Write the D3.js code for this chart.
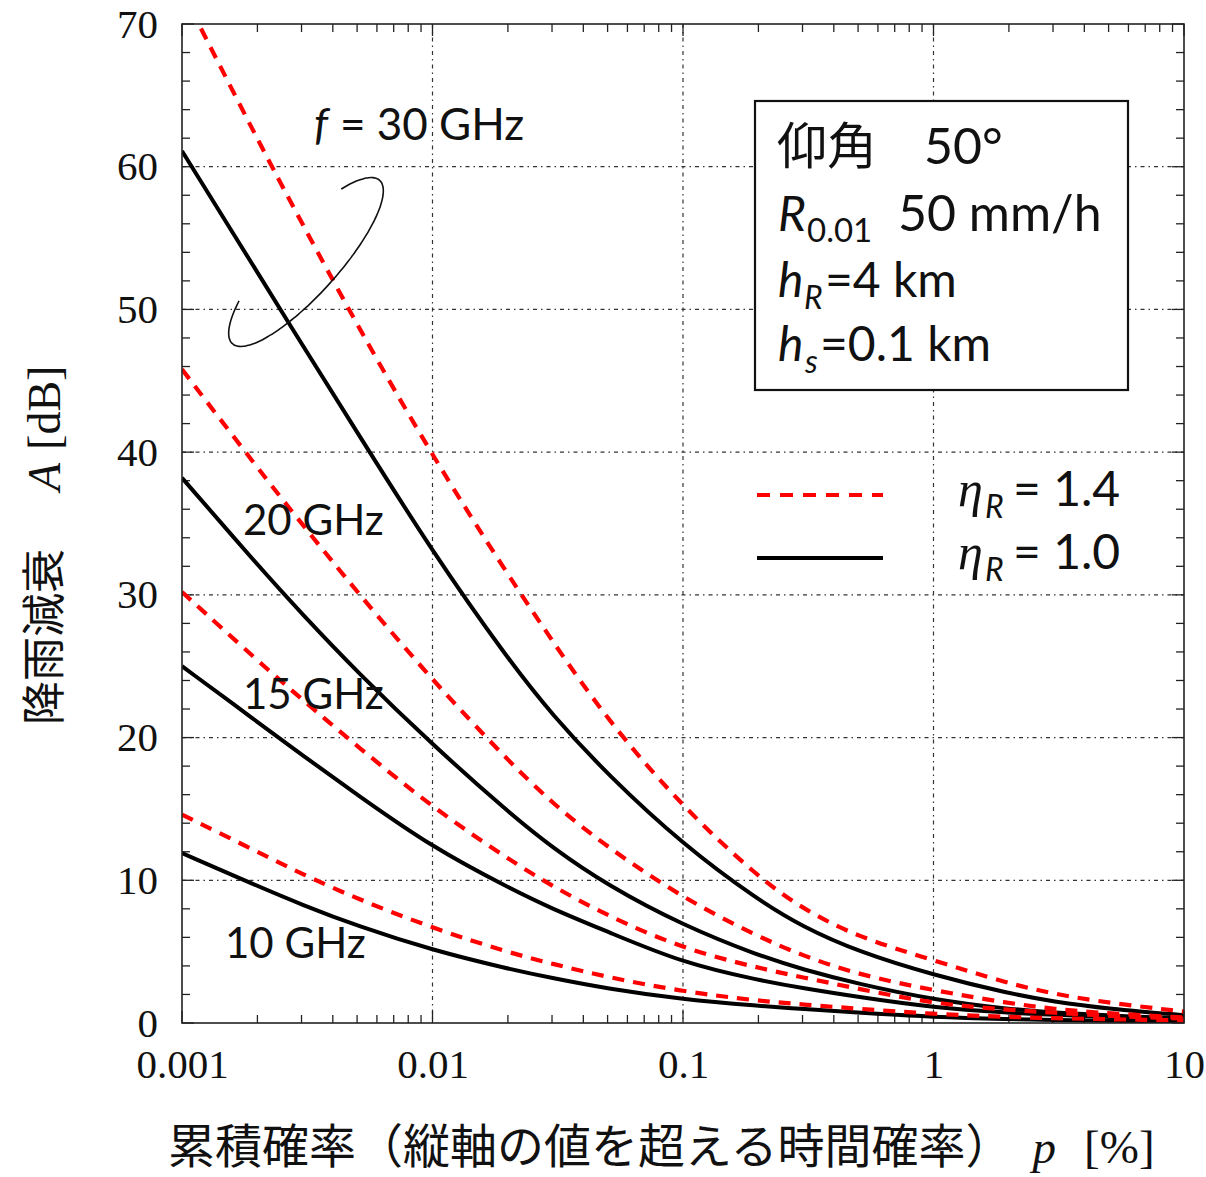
<!DOCTYPE html>
<html>
<head>
<meta charset="utf-8">
<script src="https://cdn.jsdelivr.net/npm/d3@7"></script>
<style>
  body { margin: 0; background: #fff; }
  svg { display: block; }
</style>
</head>
<body>
<svg id="chart" width="1206" height="1177"></svg>
<script>
// Rain attenuation vs. cumulative time percentage, elevation 50 deg.
// Values.

const pValues = [0.001, 0.002, 0.003, 0.005, 0.01, 0.02, 0.03, 0.05, 0.1, 0.2, 0.3, 0.5, 1, 2, 3, 5, 10];

// eta_R = 1.4 (red dashed)
const f30Eta14 = [72.3, 61.9, 56.1, 48.9, 39.7, 31.4, 26.8, 21.2, 15.1, 10.2, 8.0, 6.0, 4.4, 2.75, 2.05, 1.4, 0.8];
const f20Eta14 = [45.8, 38.9, 35.0, 30.2, 24.0, 18.4, 15.4, 12.3, 8.75, 6.04, 4.72, 3.39, 2.28, 1.38, 0.99, 0.66, 0.39];
const f15Eta14 = [30.2, 25.4, 22.7, 19.4, 15.1, 11.5, 9.6, 7.5, 5.2, 3.85, 3.2, 2.4, 1.35, 0.92, 0.72, 0.5, 0.3];
const f10Eta14 = [14.6, 12.0, 10.45, 8.7, 6.65, 4.95, 4.15, 3.2, 2.2, 1.55, 1.3, 1.0, 0.62, 0.42, 0.34, 0.26, 0.18];

// eta_R = 1.0 (black solid)
const f30Eta10 = [61.1, 52.6, 47.6, 41.4, 33.0, 25.5, 21.6, 17.4, 12.5, 8.6, 6.75, 5.0, 3.36, 2.07, 1.5, 0.99, 0.55];
const f20Eta10 = [38.2, 32.1, 28.7, 24.6, 19.5, 14.8, 12.3, 9.64, 6.84, 4.73, 3.76, 2.74, 1.63, 0.97, 0.74, 0.52, 0.31];
const f15Eta10 = [25.0, 21.1, 18.8, 16.0, 12.3, 9.5, 8.0, 6.4, 4.2, 3.0, 2.44, 1.82, 1.07, 0.72, 0.58, 0.42, 0.25];
const f10Eta10 = [11.9, 9.6, 8.3, 6.8, 5.1, 3.8, 3.15, 2.4, 1.65, 1.2, 0.98, 0.72, 0.42, 0.27, 0.21, 0.15, 0.1];

const xTicks = [0.001, 0.01, 0.1, 1, 10];
const xTickLabels = ['0.001', '0.01', '0.1', '1', '10'];
const yTicks = [0, 10, 20, 30, 40, 50, 60, 70];

const freqLabels = [
  { text: '20 GHz', x: 243, y: 535 },
  { text: '15 GHz', x: 243, y: 709 },
  { text: '10 GHz', x: 225, y: 958 }
];

const margin = { left: 182, top: 24, right: 22, bottom: 154 };
const W = 1206, H = 1177;
const plotW = W - margin.left - margin.right;
const plotH = H - margin.top - margin.bottom;

const svg = d3.select('#chart');

const x = d3.scaleLog().domain([0.001, 10]).range([0, plotW]);
const y = d3.scaleLinear().domain([0, 70]).range([plotH, 0]);

const sans = 'Lato, "Noto Sans", sans-serif';
const serif = '"Liberation Serif", "DejaVu Serif", serif';
const cjk = '"Noto Sans CJK JP", sans-serif';

svg.append('defs').append('clipPath').attr('id', 'plot-clip')
  .append('rect').attr('width', plotW).attr('height', plotH);

const g = svg.append('g').attr('transform', `translate(${margin.left},${margin.top})`);

// Grid (major only, dash-dot)
const grid = g.append('g').attr('class', 'grid');
grid.selectAll('line.gx')
  .data(xTicks.slice(1, -1))
  .join('line')
  .attr('x1', d => x(d)).attr('x2', d => x(d))
  .attr('y1', 0).attr('y2', plotH);
grid.selectAll('line.gy')
  .data(yTicks.slice(1, -1))
  .join('line')
  .attr('x1', 0).attr('x2', plotW)
  .attr('y1', d => y(d)).attr('y2', d => y(d));
grid.selectAll('line')
  .attr('stroke', '#333')
  .attr('stroke-width', 1.2)
  .attr('stroke-dasharray', '4,4,1.5,4');

// Minor ticks on all four sides
const xMinor = [];
for (let e = -3; e < 1; e++) {
  for (let k = 1; k <= 9; k++) xMinor.push(k * Math.pow(10, e));
}
xMinor.push(10);
const yMinor = d3.range(0, 71, 2);

const ticks = g.append('g').attr('class', 'ticks')
  .attr('stroke', '#222').attr('stroke-width', 1.3);
xMinor.forEach(v => {
  const major = xTicks.includes(+v.toPrecision(3));
  const len = major ? 12 : 8;
  ticks.append('line').attr('x1', x(v)).attr('x2', x(v)).attr('y1', plotH).attr('y2', plotH - len);
  ticks.append('line').attr('x1', x(v)).attr('x2', x(v)).attr('y1', 0).attr('y2', len);
});
yMinor.forEach(v => {
  const len = v % 10 === 0 ? 12 : 8;
  ticks.append('line').attr('x1', 0).attr('x2', len).attr('y1', y(v)).attr('y2', y(v));
  ticks.append('line').attr('x1', plotW).attr('x2', plotW - len).attr('y1', y(v)).attr('y2', y(v));
});

// Axis labels via d3 axes (lines hidden, text kept)
const xAxis = g.append('g')
  .attr('transform', `translate(0,${plotH})`)
  .call(d3.axisBottom(x).tickValues(xTicks).tickFormat((d, i) => xTickLabels[i]).tickSize(0).tickPadding(26));
const yAxis = g.append('g')
  .call(d3.axisLeft(y).tickValues(yTicks).tickSize(0).tickPadding(24));
[xAxis, yAxis].forEach(a => {
  a.select('.domain').remove();
  a.selectAll('text')
    .attr('font-family', serif)
    .attr('font-size', 41)
    .attr('fill', '#111');
});

// Curves
const line = d3.line()
  .x((d, i) => x(pValues[i]))
  .y(d => y(d))
  .curve(d3.curveBasis);

const curves = g.append('g').attr('clip-path', 'url(#plot-clip)');
[f10Eta10, f15Eta10, f20Eta10, f30Eta10].forEach(s => {
  curves.append('path')
    .attr('d', line(s))
    .attr('fill', 'none')
    .attr('stroke', '#000')
    .attr('stroke-width', 4);
});
[f10Eta14, f15Eta14, f20Eta14, f30Eta14].forEach(s => {
  curves.append('path')
    .attr('d', line(s))
    .attr('fill', 'none')
    .attr('stroke', '#ff0000')
    .attr('stroke-width', 4.2)
    .attr('stroke-dasharray', '12,9');
});

// Frame
g.append('rect')
  .attr('width', plotW).attr('height', plotH)
  .attr('fill', 'none').attr('stroke', '#222').attr('stroke-width', 1.6);

// Frequency labels
svg.selectAll('text.freq')
  .data(freqLabels)
  .join('text')
  .attr('class', 'freq')
  .attr('x', d => d.x).attr('y', d => d.y)
  .attr('font-family', sans).attr('font-size', 42).attr('fill', '#111')
  .text(d => d.text);

svg.append('text').attr('x', 314).attr('y', 140)
  .attr('font-family', sans).attr('font-size', 44).attr('font-style', 'italic')
  .attr('fill', '#111').text('f');
svg.append('text').attr('x', 340).attr('y', 140)
  .attr('font-family', sans).attr('font-size', 44)
  .attr('fill', '#111').text('= 30 GHz');

// Ellipse around the 30 GHz pair (open arc)
const ell = { cx: 306, cy: 262, a: 110, b: 32, rot: -48 * Math.PI / 180 };
const ellPts = d3.range(-45, 231, 3).map(t => {
  const r = t * Math.PI / 180;
  const ex = ell.a * Math.cos(r), ey = ell.b * Math.sin(r);
  return [ell.cx + ex * Math.cos(ell.rot) - ey * Math.sin(ell.rot),
          ell.cy + ex * Math.sin(ell.rot) + ey * Math.cos(ell.rot)];
});
svg.append('path')
  .attr('d', d3.line().curve(d3.curveBasis)(ellPts))
  .attr('fill', 'none').attr('stroke', '#111').attr('stroke-width', 1.6);

// Condition box
svg.append('rect')
  .attr('x', 755).attr('y', 101).attr('width', 373).attr('height', 289)
  .attr('fill', '#fff').attr('stroke', '#111').attr('stroke-width', 2.2);

const boxText = (txt, xx, yy, opts = {}) => svg.append('text')
  .attr('x', xx).attr('y', yy)
  .attr('font-family', opts.family || sans)
  .attr('font-size', opts.size || 48)
  .attr('font-style', opts.italic ? 'italic' : 'normal')
  .attr('fill', '#111')
  .text(txt);

boxText('仰角', 777, 164, { family: cjk, size: 50 });
boxText('50°', 924, 164, { size: 50 });
boxText('R', 778, 231, { italic: true });
boxText('0.01', 807, 242, { size: 33 });
boxText('50 mm/h', 898, 231, { size: 50 });
boxText('h', 778, 297, { italic: true });
boxText('R', 804, 309, { size: 32, italic: true });
boxText('=4 km', 825, 297);
boxText('h', 778, 361, { italic: true });
boxText('s', 805, 373, { size: 32, italic: true });
boxText('=0.1 km', 820, 361);

// Legend
const legend = [
  { label: '1.4', y: 495, color: '#ff0000', dash: '13,10' },
  { label: '1.0', y: 558, color: '#000', dash: null }
];
legend.forEach(d => {
  svg.append('line')
    .attr('x1', 757).attr('x2', 883).attr('y1', d.y).attr('y2', d.y)
    .attr('stroke', d.color).attr('stroke-width', 4)
    .attr('stroke-dasharray', d.dash);
  boxText('η', 958, d.y + 11, { family: serif, size: 50, italic: true });
  boxText('R', 985, d.y + 23, { size: 32, italic: true });
  boxText('= ' + d.label, 1013, d.y + 11);
});

// Axis titles
const yTitle = svg.append('text')
  .attr('transform', 'translate(60,725) rotate(-90)')
  .attr('font-family', cjk).attr('font-size', 44).attr('fill', '#111');
yTitle.append('tspan').text('降雨減衰');
yTitle.append('tspan').attr('dx', 58).attr('font-family', serif).attr('font-style', 'italic').attr('font-size', 46).text('A');
yTitle.append('tspan').attr('dx', 13).attr('font-family', serif).attr('font-size', 46).text('[dB]');

const xTitle = svg.append('text')
  .attr('x', 168).attr('y', 1163)
  .attr('font-family', cjk).attr('font-size', 47).attr('fill', '#111');
xTitle.append('tspan').text('累積確率（縦軸の値を超える時間確率）');
xTitle.append('tspan').attr('dx', 20).attr('font-family', serif).attr('font-style', 'italic').attr('font-size', 47).text('p');
xTitle.append('tspan').attr('dx', 28).attr('font-family', serif).attr('font-size', 47).text('[%]');
</script>
</body>
</html>
